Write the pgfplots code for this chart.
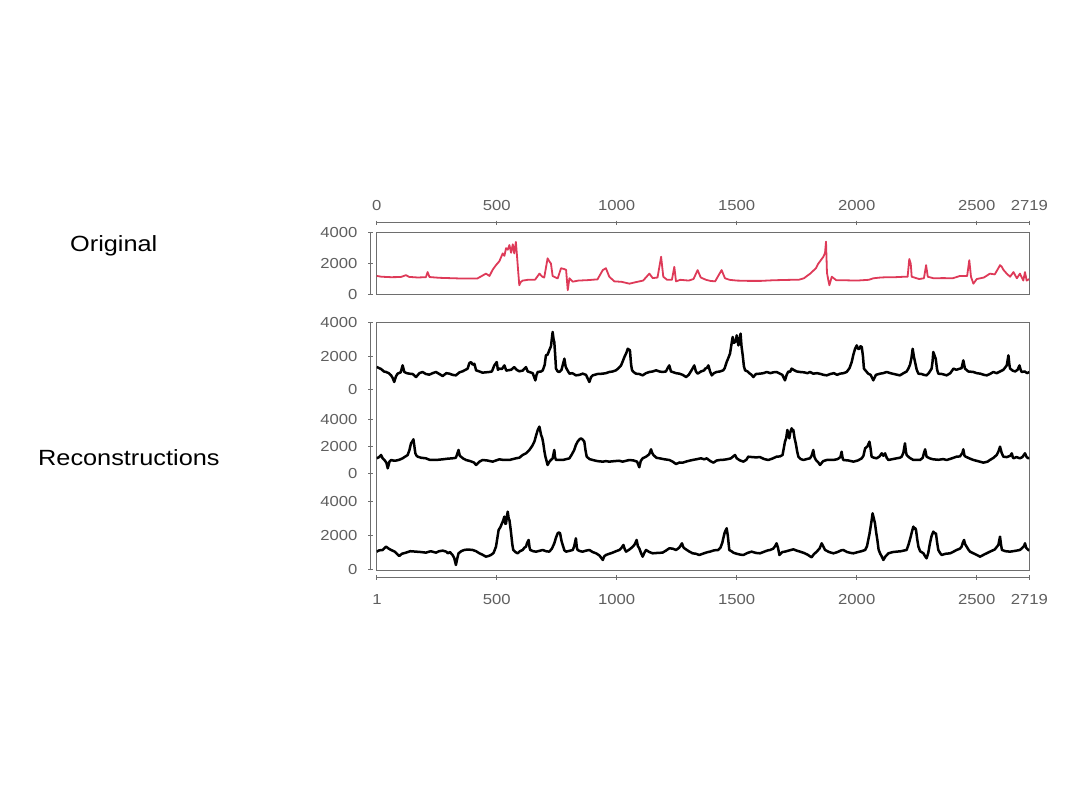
\documentclass[border=0pt]{standalone}
\usepackage{fontspec}
\setmainfont{Liberation Sans}[FakeStretch=1.15]
\usepackage{pgfplots}
\usepackage{pgfplotstable}
\pgfplotsset{compat=1.18}
\definecolor{framegray}{RGB}{110,110,110}
\definecolor{tickgray}{RGB}{95,95,95}
\definecolor{origred}{RGB}{222,58,88}
\newcommand\ticklab{\fontsize{14.5}{16}\selectfont}
\newcommand\biglab{\fontsize{22}{26}\selectfont}

\pgfplotstableread{
x y
0 1200
20 1150
60 1120
100 1130
122 1250
135 1140
170 1100
205 1120
212 1450
220 1130
260 1080
300 1060
340 1040
380 1030
420 1040
455 1350
470 1200
483 1600
497 1900
511 2150
525 2660
532 2500
539 3000
546 2900
553 3200
560 2700
567 3250
573 2660
580 3400
587 2000
594 600
600 800
608 900
630 950
660 960
678 1350
690 1150
698 1100
712 2340
719 2150
726 2000
733 1200
745 1100
754 1040
768 1700
780 1650
789 1600
796 280
803 1050
817 830
840 900
880 930
920 980
942 1580
955 1700
969 1150
990 850
1020 820
1053 700
1080 800
1110 900
1136 1350
1150 1060
1170 1100
1185 2440
1194 1150
1210 950
1230 950
1240 1790
1247 850
1265 950
1300 900
1320 1000
1337 1580
1350 1100
1372 950
1390 880
1410 850
1437 1580
1451 1050
1470 950
1500 900
1550 880
1600 880
1650 920
1700 940
1760 960
1780 1050
1806 1350
1830 1700
1840 2000
1861 2440
1868 2700
1872 3420
1876 1400
1882 900
1886 600
1896 1150
1915 920
1950 920
2000 900
2050 950
2070 1050
2100 1100
2130 1120
2160 1120
2200 1150
2212 1150
2219 2300
2225 2000
2229 1150
2260 1000
2280 1050
2289 1900
2296 1150
2320 1050
2360 1060
2400 1050
2430 1200
2460 1200
2469 2220
2476 1150
2486 700
2500 1000
2530 1100
2555 1350
2575 1300
2590 1700
2597 1900
2604 1800
2611 1600
2625 1350
2639 1150
2653 1450
2667 1050
2680 1350
2694 900
2701 1450
2708 900
2719 1000
}\origdata

\pgfplotstableread{
x y
0 1370
10 1300
18 1250
30 1100
39 1070
50 1000
60 870
67 700
73 475
80 800
87 970
100 1050
108 1465
115 1070
125 1000
136 970
150 950
164 770
178 1000
191 1070
205 950
219 910
233 1000
247 1070
261 950
275 830
290 1000
303 970
316 900
330 870
345 1050
358 1110
370 1200
379 1270
386 1600
393 1660
400 1500
407 1560
414 1170
428 1100
441 1030
455 1050
469 1070
480 1100
490 1460
500 1660
505 1200
511 1270
522 1250
532 1460
540 1150
546 1170
560 1200
573 1360
583 1200
594 1110
608 1150
622 1360
629 1100
636 1070
650 1000
661 570
666 900
671 1070
685 1100
692 1170
700 1500
705 2060
712 2100
719 2360
726 2600
733 3450
737 3000
740 2850
744 2000
747 1270
754 1100
761 1070
770 1200
782 1860
787 1400
791 1270
803 970
815 1000
830 870
845 900
858 970
872 900
886 475
893 770
900 870
920 950
942 970
955 1000
969 1070
983 1100
997 1170
1008 1300
1018 1460
1025 1700
1032 1960
1040 2200
1046 2450
1055 2360
1060 1500
1064 1170
1072 1050
1080 970
1094 950
1108 870
1122 1000
1136 1070
1150 1100
1164 1170
1178 1100
1191 1070
1205 1100
1212 1300
1219 1460
1226 1100
1233 1070
1247 1000
1261 970
1275 900
1289 770
1300 900
1316 1270
1323 1460
1330 1100
1337 970
1351 1100
1365 1170
1368 1270
1375 1300
1382 1460
1389 1100
1396 870
1405 1000
1416 1070
1430 1100
1444 1170
1450 1300
1458 1660
1465 1900
1472 2160
1478 2700
1483 3150
1488 2800
1493 2850
1497 3000
1500 3250
1504 2900
1507 2650
1512 3000
1516 3350
1520 2600
1525 2060
1530 1400
1535 1170
1545 1100
1555 970
1562 900
1569 770
1580 950
1597 970
1611 1000
1625 1070
1640 1000
1652 1050
1666 1070
1680 970
1690 900
1701 574
1708 900
1715 1100
1722 1070
1729 1270
1740 1170
1750 1100
1764 1070
1780 1050
1795 1000
1805 1070
1819 970
1835 1000
1850 950
1862 900
1875 870
1890 950
1905 1000
1918 900
1930 970
1945 1000
1958 1070
1970 1300
1979 1660
1986 2100
1993 2450
2000 2650
2005 2450
2011 2450
2016 2600
2021 2550
2026 2000
2030 1270
2040 1100
2048 970
2058 900
2069 574
2080 900
2097 970
2110 1000
2125 1070
2140 1000
2155 950
2170 900
2180 870
2195 1000
2208 1100
2215 1270
2222 1500
2228 1900
2233 2450
2238 2000
2243 1660
2250 1200
2257 970
2270 950
2280 900
2291 870
2300 1000
2312 1270
2316 1700
2319 2260
2323 2100
2329 1860
2335 1200
2340 970
2355 950
2375 870
2390 1000
2403 1270
2415 1200
2430 1270
2437 1300
2444 1760
2451 1270
2465 1100
2486 1070
2500 1000
2515 970
2530 900
2542 870
2555 950
2569 1070
2583 1000
2597 1100
2611 1200
2625 1460
2629 1800
2632 2060
2636 1500
2639 1270
2650 1150
2660 1100
2670 1200
2678 1460
2683 1200
2687 1070
2700 1100
2710 1000
2719 1070
}\recA

\pgfplotstableread{
x y
0 1110
10 1200
18 1356
25 1100
32 985
40 800
46 370
53 850
60 985
70 940
80 940
94 1000
108 1110
120 1250
129 1356
136 1700
143 2220
148 2350
153 2517
157 2000
161 1480
166 1300
171 1230
185 1150
205 1110
220 1000
233 985
255 1000
275 1035
295 1080
316 1110
330 1150
341 1727
346 1300
351 1230
360 1100
372 985
390 900
405 800
414 615
428 860
441 985
460 950
483 862
497 950
511 1035
530 985
553 985
567 1050
580 1110
594 1150
608 1356
622 1480
636 1727
647 2000
657 2344
664 2800
671 3209
678 3455
685 2838
690 2600
694 2220
699 1600
703 1230
708 900
712 615
719 850
726 985
733 1100
740 1727
743 1200
747 985
760 1000
775 985
790 1050
803 1110
813 1400
823 1727
830 2100
837 2344
844 2500
851 2591
858 2500
865 2344
870 1700
875 1230
887 1050
900 985
920 900
942 862
955 900
969 862
990 900
1010 930
1025 862
1040 930
1053 985
1070 950
1085 862
1094 445
1100 900
1108 1110
1122 1230
1135 1400
1143 1776
1148 1500
1153 1356
1165 1150
1178 1110
1200 1035
1219 985
1233 862
1247 689
1262 800
1275 788
1295 900
1316 985
1335 1050
1351 1110
1365 1035
1375 1110
1390 900
1403 788
1417 950
1430 985
1444 1000
1458 1035
1475 1100
1493 1356
1500 1110
1514 950
1528 862
1540 1000
1548 1230
1565 1200
1580 1180
1597 1200
1615 1050
1632 985
1650 1100
1666 1230
1680 1250
1691 1356
1701 2344
1706 2600
1711 3209
1715 2900
1719 2591
1724 3100
1729 3332
1733 3100
1736 3209
1741 2600
1746 2220
1752 1600
1757 1230
1767 1050
1778 985
1791 1050
1805 1110
1812 1300
1819 1727
1824 1200
1830 985
1840 800
1847 615
1860 900
1875 985
1890 1000
1903 985
1920 1050
1932 1200
1937 1600
1941 1150
1944 985
1965 950
1986 862
2005 950
2021 1110
2028 1300
2035 1850
2045 2000
2053 2344
2058 1800
2062 1230
2072 1150
2083 1110
2095 1250
2104 1480
2111 1300
2118 1480
2125 1150
2132 985
2150 1050
2166 1110
2180 1150
2187 1230
2194 1500
2201 2220
2205 1600
2208 1356
2220 1150
2236 985
2250 1000
2264 985
2275 1150
2280 1500
2285 1776
2291 1230
2305 1100
2319 1035
2340 1000
2360 1050
2375 985
2395 1100
2416 1230
2430 1250
2440 1500
2444 1776
2449 1300
2454 1230
2470 1100
2486 985
2505 900
2528 788
2545 862
2555 985
2570 1150
2583 1356
2590 1600
2597 1973
2604 1500
2611 1230
2625 1200
2640 1300
2646 1480
2650 1200
2653 1110
2665 1200
2680 1110
2690 1200
2701 1480
2708 1200
2715 1110
2719 1150
}\recB

\pgfplotstableread{
x y
0 1074
10 1150
25 1172
39 1367
50 1250
60 1172
75 1074
94 820
105 950
122 1016
140 1100
164 1074
185 1050
205 1016
225 1100
247 1016
260 1100
275 1133
290 1074
296 977
305 1050
316 879
323 700
330 293
336 700
341 977
352 1100
365 1172
380 1200
400 1172
414 1100
428 977
440 900
455 781
466 820
476 879
487 1000
497 1367
503 1900
508 2344
515 2500
522 2735
527 2900
532 3125
536 2700
539 2735
543 3200
546 3418
550 3000
553 2930
557 2500
560 2149
565 1500
569 1172
578 1050
587 977
597 1100
608 1172
615 1300
622 1367
627 1600
633 1758
637 1300
640 1172
652 1100
664 1074
678 1120
692 1172
705 1100
719 1074
730 1250
740 1563
747 1900
754 2149
759 2200
764 2149
770 1700
775 1465
782 1150
789 1074
803 1120
817 1172
823 1400
830 1856
834 1300
837 1172
848 1100
858 1074
872 1133
886 1172
900 1050
914 977
928 850
942 586
948 800
955 879
969 950
983 1016
997 1100
1011 1172
1020 1300
1028 1465
1034 1200
1039 1074
1053 1200
1067 1367
1075 1500
1083 1758
1088 1400
1094 1270
1101 1000
1108 781
1115 1000
1122 1172
1136 1050
1150 977
1170 1000
1191 1016
1205 1133
1219 1270
1233 1250
1247 1172
1260 1300
1272 1563
1277 1350
1282 1270
1300 1100
1316 977
1330 950
1344 879
1358 950
1372 1016
1380 1050
1389 1074
1405 1150
1423 1172
1432 1300
1440 1600
1444 1856
1450 2200
1458 2442
1463 2000
1469 1172
1478 1100
1486 1016
1500 950
1515 900
1528 879
1545 1000
1562 1074
1580 1000
1597 977
1615 1074
1630 1150
1639 1172
1652 1250
1660 1400
1666 1563
1672 1300
1678 879
1690 1050
1701 1074
1720 1150
1736 1211
1750 1133
1764 1074
1780 1000
1795 900
1812 742
1820 900
1833 1074
1845 1250
1854 1563
1860 1400
1868 1172
1885 1050
1903 977
1920 1050
1935 1150
1944 1172
1960 1050
1975 1000
1986 977
2005 1050
2020 1100
2035 1172
2043 1400
2048 1758
2053 2100
2058 2540
2062 2900
2066 3320
2070 3100
2076 2735
2081 2200
2086 1758
2091 1200
2097 977
2104 800
2111 586
2120 800
2132 977
2150 1050
2166 1074
2185 1100
2200 1150
2208 1172
2216 1500
2225 1953
2231 2300
2236 2540
2240 2400
2244 2450
2247 2344
2252 1800
2257 1367
2264 1100
2278 977
2285 800
2291 684
2298 1000
2305 1563
2312 2000
2319 2246
2325 2149
2330 2149
2335 1600
2340 1172
2347 1000
2354 879
2370 950
2389 977
2400 1050
2416 1172
2430 1250
2437 1367
2442 1600
2447 1758
2452 1500
2458 1367
2465 1200
2472 1074
2490 950
2514 781
2530 900
2555 1074
2575 1200
2590 1465
2597 1953
2601 1500
2605 1172
2620 1100
2639 1074
2660 1120
2680 1172
2690 1300
2697 1400
2701 1563
2706 1300
2715 1172
2719 1150
}\recC

\pgfplotsset{
  base/.style={scale only axis, width=652.6pt, anchor=south west,
    xmin=0, xmax=2719, ymin=0, ymax=4000, scaled ticks=false},
  boxframe/.style={axis line style={draw=framegray, line width=1pt},
    xtick=\empty, ytick=\empty},
  noarrows/.style={axis line style={-, draw=framegray, line width=1pt},
    x axis line style={-}, y axis line style={-},
    every outer x axis line/.append style={-},
    every outer y axis line/.append style={-},
    every inner x axis line/.append style={-},
    every inner y axis line/.append style={-}},
  tickaxis/.style={scale only axis, anchor=south west, scaled ticks=false,
    tick align=outside, major tick length=4.5pt,
    tick style={draw=framegray, line width=1pt},
    ticklabel style={font=\ticklab, text=tickgray}},
  xtickaxis/.style={tickaxis, width=652.6pt, height=10pt,
    xmin=0, xmax=2719, ymin=0, ymax=1, axis y line=none, ytick=\empty,
    axis x line=#1, noarrows},
  ytickaxis/.style={tickaxis, width=10pt, xmin=0, xmax=1, ymin=0, ymax=4000,
    axis x line=none, xtick=\empty, axis y line=left, noarrows,
    ytick={0,2000,4000}, yticklabels={0,2000,4000},
    yticklabel style={xshift=-7.5pt}},
  blackline/.style={black, line width=2.5pt, line join=round, no marks},
}

\begin{document}
\begin{tikzpicture}
\path[use as bounding box, fill=white] (0pt,0pt) rectangle (1080pt,810pt);

\node[anchor=base west, font=\biglab, text=black, inner sep=0pt] at (70pt,558pt) {Original};
\node[anchor=base west, font=\biglab, text=black, inner sep=0pt] at (38pt,344pt) {Reconstructions};

% ---- Original ----
\begin{axis}[base, boxframe, at={(376.7pt,515.5pt)}, height=61.8pt]
\addplot[origred, line width=1.8pt, line join=round, no marks] table {\origdata};
\end{axis}
\begin{axis}[xtickaxis=top, at={(376.7pt,577pt)},
  xtick={0,500,1000,1500,2000,2500,2719},
  xticklabels={0,500,1000,1500,2000,2500,2719},
  xticklabel style={yshift=7pt}, noarrows]
\end{axis}
\begin{axis}[ytickaxis, at={(370.7pt,515.5pt)}, height=61.8pt, noarrows]
\end{axis}

% ---- Reconstructions frame ----
\begin{axis}[base, boxframe, at={(376.7pt,239.5pt)}, height=247.8pt]
\end{axis}
\begin{axis}[xtickaxis=bottom, at={(376.7pt,232.3pt)},
  xtick={1,500,1000,1500,2000,2500,2719},
  xticklabels={1,500,1000,1500,2000,2500,2719},
  xticklabel style={yshift=-11pt}, noarrows]
\end{axis}
\begin{axis}[tickaxis, width=10pt, height=247.8pt, at={(370.7pt,239.5pt)},
  xmin=0, xmax=1, ymin=0, ymax=1, axis x line=none, axis y line=left,
  xtick=\empty, ytick=\empty, noarrows]
\end{axis}

% ---- series 1 ----
\begin{axis}[base, hide axis, at={(376.7pt,420pt)}, height=67.3pt]
\addplot[blackline] table {\recA};
\end{axis}
\begin{axis}[ytickaxis, at={(370.7pt,420pt)}, height=67.3pt, noarrows]
\end{axis}

% ---- series 2 ----
\begin{axis}[base, hide axis, at={(376.7pt,336.7pt)}, height=54pt]
\addplot[blackline] table {\recB};
\end{axis}
\begin{axis}[ytickaxis, at={(370.7pt,336.7pt)}, height=54pt, noarrows]
\end{axis}

% ---- series 3 ----
\begin{axis}[base, hide axis, at={(376.7pt,240pt)}, height=68.3pt]
\addplot[blackline] table {\recC};
\end{axis}
\begin{axis}[ytickaxis, at={(370.7pt,240pt)}, height=68.3pt, noarrows]
\end{axis}
\end{tikzpicture}
\end{document}
